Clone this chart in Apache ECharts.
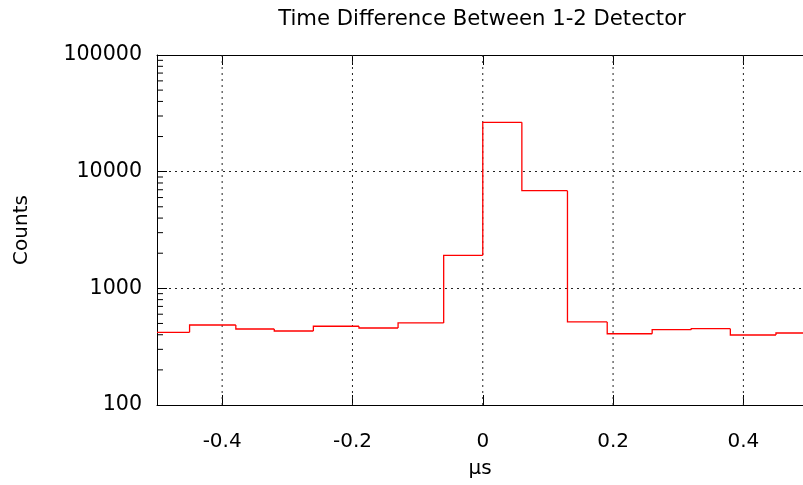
<!DOCTYPE html>
<html>
<head>
<meta charset="utf-8">
<script src="https://cdn.jsdelivr.net/npm/echarts@6/dist/echarts.min.js"></script>
<style>
html,body{margin:0;padding:0;background:#fff;}
#chart{width:803px;height:485px;}
</style>
</head>
<body>
<div id="chart"></div>
<script>
// Bin edges (µs) and counts per bin
const binEdges = [-0.5, -0.45, -0.379, -0.32, -0.26, -0.19, -0.13, -0.06, 0, 0.06, 0.13, 0.191, 0.26, 0.32, 0.38, 0.45, 0.5];
const binCounts = [420, 485, 448, 431, 473, 457, 505, 1920, 26500, 6870, 515, 408, 442, 451, 398, 414];
const xTickValues = [-0.4, -0.2, 0, 0.2, 0.4];
const yMinorTicks = [200,300,400,500,600,700,800,900,2000,3000,4000,5000,6000,7000,8000,9000,20000,30000,40000,50000,60000,70000,80000,90000];
const X_MIN = -0.5, X_MAX_VISIBLE = 0.4915; // right edge of the plot is cut by the image border

// one item per bin: [left edge, right edge, count, previous bin count]
const binItems = binCounts.map((c, i) => [binEdges[i], binEdges[i + 1], c, i > 0 ? binCounts[i - 1] : c]);

const FONT = 'DejaVu Sans';
const chart = echarts.init(document.getElementById('chart'), null, {renderer: 'canvas'});

const gridLine = {show: true, lineStyle: {color: '#222', width: 1, type: [2, 4]}};

chart.setOption({
  animation: false,
  backgroundColor: '#fff',
  title: {
    text: 'Time Difference Between 1-2 Detector',
    left: 477,
    top: 4,
    textAlign: 'center',
    textStyle: {fontFamily: FONT, fontSize: 21.2, fontWeight: 'normal', color: '#000'}
  },
  grid: {left: 157, right: 0, top: 55, bottom: 80, containLabel: false},
  xAxis: [{
    type: 'value',
    min: X_MIN, max: X_MAX_VISIBLE,
    position: 'bottom',
    name: 'µs',
    nameLocation: 'middle',
    nameGap: 54,
    nameTextStyle: {fontFamily: FONT, fontSize: 20, color: '#000'},
    axisLine: {show: true, onZero: false, lineStyle: {color: '#000', width: 1}},
    axisTick: {show: true, inside: true, length: 10, lineStyle: {color: '#000'},
      customValues: xTickValues},
    axisLabel: {fontFamily: FONT, fontSize: 20, color: '#000', margin: 27,
      customValues: xTickValues,
      formatter: v => (Math.abs(v) < 1e-9 ? '0' : (+v.toFixed(1)).toString())},
    splitLine: {show: false}
  }, {
    type: 'value',
    min: X_MIN, max: X_MAX_VISIBLE,
    position: 'top',
    axisLine: {show: true, onZero: false, lineStyle: {color: '#000', width: 1}},
    axisTick: {show: true, inside: true, length: 10, lineStyle: {color: '#000'},
      customValues: xTickValues},
    axisLabel: {show: false},
    splitLine: {show: false}
  }],
  yAxis: {
    type: 'log',
    logBase: 10,
    min: 100, max: 100000,
    name: 'Counts',
    nameLocation: 'middle',
    nameRotate: 90,
    nameGap: 125,
    nameTextStyle: {fontFamily: FONT, fontSize: 20, color: '#000'},
    axisLine: {show: true, onZero: false, lineStyle: {color: '#000', width: 1}},
    axisTick: {show: true, inside: true, length: 10, lineStyle: {color: '#000'}},
    axisLabel: {fontFamily: FONT, fontSize: 20.6, color: '#000', margin: 15,
      formatter: v => String(Math.round(v))},
    splitLine: gridLine
  },
  series: [{
    // histogram outline (steps)
    type: 'custom',
    data: binItems,
    encode: {x: [0, 1], y: [2, 3]},
    renderItem: (params, api) => {
      const left = api.value(0), right = api.value(1), c = api.value(2), prev = api.value(3);
      const p0 = api.coord([left, prev]);
      const p1 = api.coord([left, c]);
      const p2 = api.coord([right, c]);
      return {type: 'polyline', shape: {points: [p0, p1, p2]},
        style: {stroke: '#ff0000', lineWidth: 1.3, fill: null}};
    },
    silent: true,
    clip: true,
    z: 5
  }, {
    // vertical grid lines at the x tick positions
    type: 'custom',
    data: xTickValues.map(v => [v]),
    renderItem: (params, api) => {
      const top = api.coord([api.value(0), 100000]);
      const bot = api.coord([api.value(0), 100]);
      return {type: 'line', shape: {x1: top[0], y1: top[1], x2: bot[0], y2: bot[1]},
        style: {stroke: '#222', lineWidth: 1, lineDash: [2, 4]}};
    },
    silent: true,
    z: 1
  }, {
    // minor log ticks on the left border
    type: 'custom',
    data: yMinorTicks.map(v => [X_MIN, v]),
    renderItem: (params, api) => {
      const p = api.coord([api.value(0), api.value(1)]);
      return {type: 'line', shape: {x1: p[0], y1: p[1], x2: p[0] + 6, y2: p[1]},
        style: {stroke: '#000', lineWidth: 1}};
    },
    silent: true,
    clip: false,
    z: 3
  }]
});
</script>
</body>
</html>
